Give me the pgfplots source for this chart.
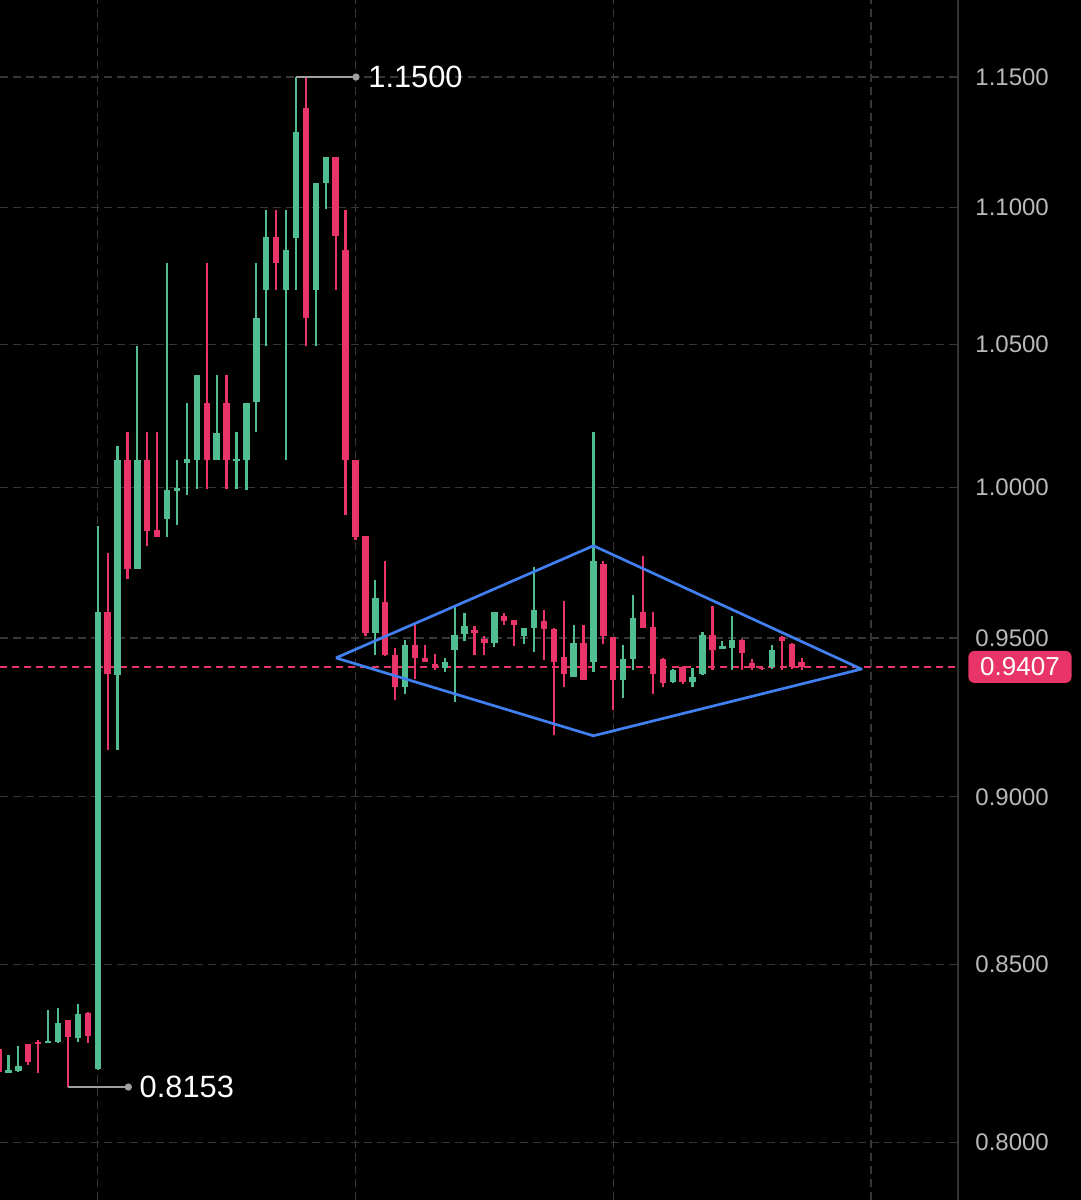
\documentclass[border=0pt]{standalone}
\usepackage{fontspec}
\setmainfont{Liberation Sans}
\usepackage{pgfplots}
\pgfplotsset{compat=1.18}
\definecolor{cgreen}{RGB}{80,190,145}
\definecolor{cred}{RGB}{232,52,104}
\definecolor{cblue}{RGB}{64,128,240}
\definecolor{cgrid}{RGB}{54,54,54}
\definecolor{cticks}{RGB}{185,185,185}
\definecolor{cann}{RGB}{160,160,160}
\definecolor{caxis}{RGB}{52,52,52}
\begin{document}
\begin{tikzpicture}
\fill[black] (0,0) rectangle (540.5pt,600pt);
\useasboundingbox (0,0) rectangle (540.5pt,600pt);
\begin{axis}[
  name=ax,
  at={(0,0)}, anchor=south west,
  scale only axis, width=479pt, height=600pt,
  xmin=0.146, xmax=96.77,
  ymode=log, ymin=0.78467, ymax=1.18054,
  axis line style={draw=none},
  major tick length=0pt, minor tick length=0pt,
  xtick={10,36,62,88}, xticklabels={},
  ytick={0.80,0.85,0.90,0.95,1.00,1.05,1.10,1.15},
  yticklabels={0.8000,0.8500,0.9000,0.9500,1.0000,1.0500,1.1000,1.1500},
  yticklabel pos=right,
  yticklabel style={anchor=west, inner sep=0pt, xshift=8.5pt, font=\fontsize{12}{12}\selectfont, text=cticks},
  xmajorgrids, ymajorgrids,
  major grid style={draw=cgrid, line width=0.6pt, dash pattern=on 4pt off 2.5pt},
  unbounded coords=jump,
  clip=true,
]
% current price line
\addplot[cred, line width=0.6pt, dash pattern=on 3.5pt off 2.5pt] coordinates {(0.146,0.9407) (96.77,0.9407)};
% green wicks
\addplot[cgreen, line width=1.1pt, line cap=butt] coordinates {
(1,0.8192)(1,0.8243)(1,nan)
(2,0.8196)(2,0.8267)(2,nan)
(5,0.8276)(5,0.8369)(5,nan)
(6,0.8276)(6,0.8375)(6,nan)
(8,0.8278)(8,0.8388)(8,nan)
(10,0.8201)(10,0.9868)(10,nan)
(12,0.9145)(12,1.0142)(12,nan)
(14,0.9725)(14,1.0494)(14,nan)
(17,0.9832)(17,1.0793)(17,nan)
(18,0.9873)(18,1.0092)(18,nan)
(19,0.9975)(19,1.0293)(19,nan)
(20,0.9994)(20,1.0391)(20,nan)
(22,1.0094)(22,1.0391)(22,nan)
(24,0.9994)(24,1.0192)(24,nan)
(25,0.9992)(25,1.0291)(25,nan)
(26,1.0192)(26,1.0793)(26,nan)
(27,1.0494)(27,1.0991)(27,nan)
(29,1.0094)(29,1.0991)(29,nan)
(30,1.0696)(30,1.1500)(30,nan)
(32,1.0494)(32,1.1091)(32,nan)
(33,1.0994)(33,1.1192)(33,nan)
(38,0.9446)(38,0.9690)(38,nan)
(41,0.9321)(41,0.9492)(41,nan)
(45,0.9392)(45,0.9436)(45,nan)
(46,0.9294)(46,0.9602)(46,nan)
(47,0.9489)(47,0.9581)(47,nan)
(50,0.9471)(50,0.9583)(50,nan)
(53,0.9481)(53,0.9532)(53,nan)
(54,0.9456)(54,0.9732)(54,nan)
(58,0.9374)(58,0.9543)(58,nan)
(60,0.9392)(60,1.0192)(60,nan)
(63,0.9308)(63,0.9478)(63,nan)
(64,0.9396)(64,0.9641)(64,nan)
(68,0.9355)(68,0.9400)(68,nan)
(70,0.9344)(70,0.9403)(70,nan)
(71,0.9382)(71,0.9521)(71,nan)
(73,0.9463)(73,0.9489)(73,nan)
(74,0.9398)(74,0.9570)(74,nan)
(78,0.9400)(78,0.9478)
};
% green bodies
\addplot[cgreen, line width=3.2pt, line cap=butt] coordinates {
(1,0.8193)(1,0.8199)(1,nan)
(2,0.8197)(2,0.8213)(2,nan)
(5,0.8277)(5,0.8283)(5,nan)
(6,0.8278)(6,0.8333)(6,nan)
(8,0.8290)(8,0.8359)(8,nan)
(10,0.8204)(10,0.9586)(10,nan)
(12,0.9382)(12,1.0092)(12,nan)
(14,0.9726)(14,1.0092)(14,nan)
(17,0.9892)(17,0.9992)(17,nan)
(18,0.9988)(18,0.9998)(18,nan)
(19,1.0084)(19,1.0098)(19,nan)
(20,1.0094)(20,1.0391)(20,nan)
(22,1.0094)(22,1.0188)(22,nan)
(24,1.0089)(24,1.0096)(24,nan)
(25,1.0094)(25,1.0291)(25,nan)
(26,1.0295)(26,1.0593)(26,nan)
(27,1.0696)(27,1.0891)(27,nan)
(29,1.0696)(29,1.0842)(29,nan)
(30,1.0886)(30,1.1288)(30,nan)
(32,1.0696)(32,1.1091)(32,nan)
(33,1.1094)(33,1.1192)(33,nan)
(38,0.9516)(38,0.9630)(38,nan)
(41,0.9344)(41,0.9478)(41,nan)
(45,0.9404)(45,0.9423)(45,nan)
(46,0.9460)(46,0.9510)(46,nan)
(47,0.9514)(47,0.9540)(47,nan)
(50,0.9484)(50,0.9583)(50,nan)
(53,0.9507)(53,0.9532)(53,nan)
(54,0.9532)(54,0.9592)(54,nan)
(58,0.9374)(58,0.9485)(58,nan)
(60,0.9424)(60,0.9754)(60,nan)
(63,0.9364)(63,0.9432)(63,nan)
(64,0.9432)(64,0.9565)(64,nan)
(68,0.9360)(68,0.9396)(68,nan)
(70,0.9360)(70,0.9374)(70,nan)
(71,0.9385)(71,0.9510)(71,nan)
(73,0.9464)(73,0.9475)(73,nan)
(74,0.9467)(74,0.9494)(74,nan)
(78,0.9406)(78,0.9462)
};
% red wicks
\addplot[cred, line width=1.1pt, line cap=butt] coordinates {
(0,0.8190)(0,0.8266)(0,nan)
(3,0.8214)(3,0.8274)(3,nan)
(4,0.8193)(4,0.8286)(4,nan)
(7,0.8153)(7,0.8342)(7,nan)
(9,0.8276)(9,0.8363)(9,nan)
(11,0.9145)(11,0.9779)(11,nan)
(13,0.9692)(13,1.0192)(13,nan)
(15,0.9803)(15,1.0192)(15,nan)
(16,0.9834)(16,1.0192)(16,nan)
(21,0.9994)(21,1.0793)(21,nan)
(23,0.9994)(23,1.0391)(23,nan)
(28,1.0696)(28,1.0991)(28,nan)
(31,1.0494)(31,1.1500)(31,nan)
(34,1.0696)(34,1.1192)(34,nan)
(35,0.9907)(35,1.0991)(35,nan)
(36,0.9823)(36,1.0094)(36,nan)
(37,0.9505)(37,0.9836)(37,nan)
(39,0.9443)(39,0.9754)(39,nan)
(40,0.9302)(40,0.9467)(40,nan)
(42,0.9368)(42,0.9548)(42,nan)
(43,0.9424)(43,0.9478)(43,nan)
(44,0.9398)(44,0.9449)(44,nan)
(48,0.9446)(48,0.9540)(48,nan)
(49,0.9446)(49,0.9505)(49,nan)
(51,0.9543)(51,0.9581)(51,nan)
(52,0.9475)(52,0.9557)(52,nan)
(55,0.9430)(55,0.9592)(55,nan)
(56,0.9192)(56,0.9532)(56,nan)
(57,0.9344)(57,0.9622)(57,nan)
(59,0.9364)(59,0.9543)(59,nan)
(61,0.9481)(61,0.9751)(61,nan)
(62,0.9271)(62,0.9503)(62,nan)
(65,0.9532)(65,0.9770)(65,nan)
(66,0.9321)(66,0.9586)(66,nan)
(67,0.9344)(67,0.9435)(67,nan)
(69,0.9353)(69,0.9411)(69,nan)
(72,0.9398)(72,0.9605)(72,nan)
(75,0.9398)(75,0.9496)(75,nan)
(76,0.9398)(76,0.9432)(76,nan)
(77,0.9398)(77,0.9406)(77,nan)
(79,0.9398)(79,0.9507)(79,nan)
(80,0.9400)(80,0.9484)(80,nan)
(81,0.9398)(81,0.9435)
};
% red bodies
\addplot[cred, line width=3.2pt, line cap=butt] coordinates {
(0,0.8260)(0,0.8196)(0,nan)
(3,0.8274)(3,0.8222)(3,nan)
(4,0.8280)(4,0.8274)(4,nan)
(7,0.8342)(7,0.8293)(7,nan)
(9,0.8361)(9,0.8295)(9,nan)
(11,0.9586)(11,0.9385)(11,nan)
(13,1.0092)(13,0.9726)(13,nan)
(15,1.0092)(15,0.9851)(15,nan)
(16,0.9855)(16,0.9834)(16,nan)
(21,1.0291)(21,1.0094)(21,nan)
(23,1.0291)(23,1.0094)(23,nan)
(28,1.0891)(28,1.0793)(28,nan)
(31,1.1378)(31,1.0593)(31,nan)
(34,1.1192)(34,1.0894)(34,nan)
(35,1.0842)(35,1.0094)(35,nan)
(36,1.0092)(36,0.9834)(36,nan)
(37,0.9836)(37,0.9518)(37,nan)
(39,0.9616)(39,0.9446)(39,nan)
(40,0.9446)(40,0.9344)(40,nan)
(42,0.9478)(42,0.9435)(42,nan)
(43,0.9435)(43,0.9424)(43,nan)
(44,0.9417)(44,0.9407)(44,nan)
(48,0.9527)(48,0.9516)(48,nan)
(49,0.9496)(49,0.9484)(49,nan)
(51,0.9570)(51,0.9554)(51,nan)
(52,0.9557)(52,0.9543)(52,nan)
(55,0.9554)(55,0.9529)(55,nan)
(56,0.9529)(56,0.9424)(56,nan)
(57,0.9438)(57,0.9385)(57,nan)
(59,0.9485)(59,0.9364)(59,nan)
(61,0.9743)(61,0.9505)(61,nan)
(62,0.9503)(62,0.9364)(62,nan)
(65,0.9583)(65,0.9532)(65,nan)
(66,0.9537)(66,0.9385)(66,nan)
(67,0.9432)(67,0.9355)(67,nan)
(69,0.9408)(69,0.9360)(69,nan)
(72,0.9510)(72,0.9462)(72,nan)
(75,0.9492)(75,0.9453)(75,nan)
(76,0.9421)(76,0.9403)(76,nan)
(77,0.9404)(77,0.9399)(77,nan)
(79,0.9503)(79,0.9491)(79,nan)
(80,0.9481)(80,0.9406)(80,nan)
(81,0.9423)(81,0.9407)
};
% diamond pattern
\addplot[cblue, line width=1.35pt, line join=round] coordinates {(34.03,0.9436) (60,0.9803) (87.03,0.9400) (60,0.9189) (34.03,0.9436)};
% high / low annotations
\addplot[cann, line width=0.6pt, mark=*, mark indices={2}, mark size=1.5pt, mark options={fill=cann, draw=cann}] coordinates {(30,1.1500) (36.05,1.1500)};
\addplot[cann, line width=0.6pt, mark=*, mark indices={2}, mark size=1.5pt, mark options={fill=cann, draw=cann}] coordinates {(7.03,0.8153) (13.09,0.8153)};
\node[anchor=west, inner sep=0pt, xshift=6pt, text=white, font=\fontsize{15.4}{15.4}\selectfont] at (axis cs:36.05,1.1500) {1.1500};
\node[anchor=west, inner sep=0pt, xshift=5.5pt, text=white, font=\fontsize{15.4}{15.4}\selectfont] at (axis cs:13.09,0.8153) {0.8153};
\coordinate (pl) at (axis cs:96.77,0.9407);
\end{axis}
\draw[caxis, line width=0.6pt] (ax.south east) -- (ax.north east);
\node[anchor=west, xshift=5pt, fill=cred, rounded corners=3pt, text=white, inner xsep=5.9pt, inner ysep=0pt, minimum height=16pt, font=\fontsize{13}{13}\selectfont] at (pl) {0.9407};
\end{tikzpicture}
\end{document}
